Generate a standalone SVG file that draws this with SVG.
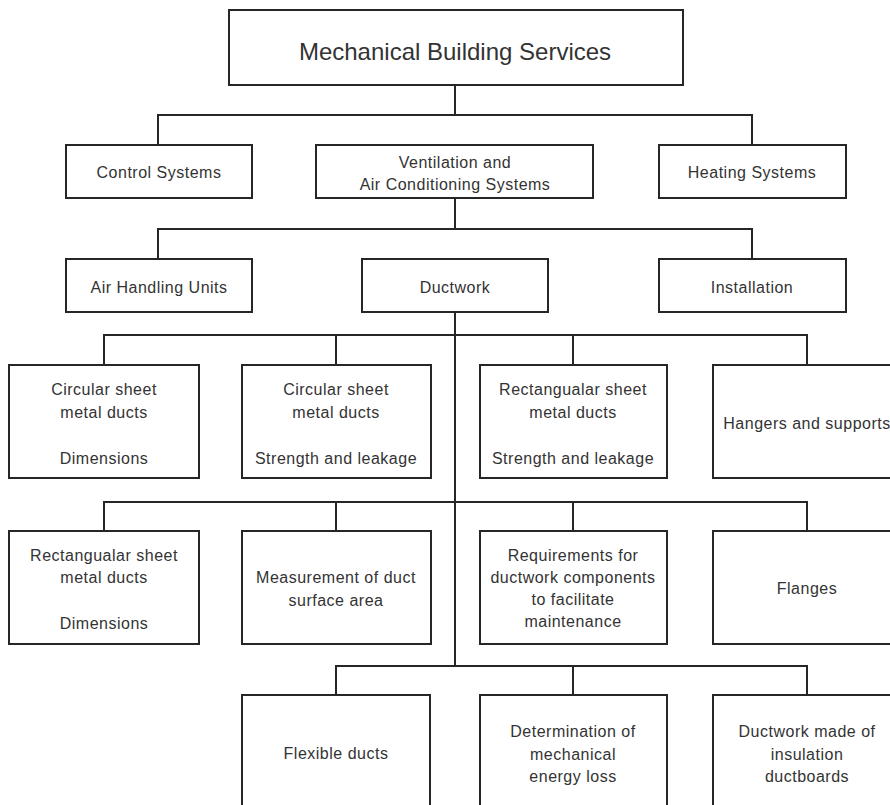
<svg xmlns="http://www.w3.org/2000/svg" width="890" height="805" viewBox="0 0 890 805">
<style>
.box{fill:#fff;stroke:#262626;stroke-width:2}
.t{font-family:"Liberation Sans",Arial,sans-serif;font-size:16px;fill:#333;text-anchor:middle;letter-spacing:0.5px}
.title{font-size:24px;letter-spacing:0}
.c{fill:none;stroke:#262626;stroke-width:2}
</style>
<rect width="890" height="805" fill="#fff"/>
<g id="connectors" class="c">
<path d="M455 85V115M158 145V115H752V145"/>
<path d="M455 198V229M158 259V229H752V259"/>
<path d="M455 312V666M104 365V335H807V365M336 335V365M573 335V365"/>
<path d="M104 531V502H807V531M336 502V531M573 502V531"/>
<path d="M336 695V666H807V695M573 666V695"/>
</g>
<g id="n-mbs"><rect class="box" x="229" y="10" width="454" height="75"/><text class="t title" x="455" y="60">Mechanical Building Services</text></g>
<g id="n-control"><rect class="box" x="66" y="145" width="186" height="53"/><text class="t" x="159" y="178">Control Systems</text></g>
<g id="n-vac"><rect class="box" x="316" y="145" width="277" height="53"/><text class="t" x="455" y="168">Ventilation and</text><text class="t" x="455" y="190">Air Conditioning Systems</text></g>
<g id="n-heating"><rect class="box" x="659" y="145" width="187" height="53"/><text class="t" x="752" y="178">Heating Systems</text></g>
<g id="n-ahu"><rect class="box" x="66" y="259" width="186" height="53"/><text class="t" x="159" y="293">Air Handling Units</text></g>
<g id="n-ductwork"><rect class="box" x="362" y="259" width="186" height="53"/><text class="t" x="455" y="293">Ductwork</text></g>
<g id="n-install"><rect class="box" x="659" y="259" width="187" height="53"/><text class="t" x="752" y="293">Installation</text></g>
<g id="n-circ-dim"><rect class="box" x="9" y="365" width="190" height="113"/><text class="t" x="104" y="395">Circular sheet</text><text class="t" x="104" y="418">metal ducts</text><text class="t" x="104" y="464">Dimensions</text></g>
<g id="n-circ-str"><rect class="box" x="242" y="365" width="189" height="113"/><text class="t" x="336" y="395">Circular sheet</text><text class="t" x="336" y="418">metal ducts</text><text class="t" x="336" y="464">Strength and leakage</text></g>
<g id="n-rect-str"><rect class="box" x="480" y="365" width="187" height="113"/><text class="t" x="573" y="395">Rectangualar sheet</text><text class="t" x="573" y="418">metal ducts</text><text class="t" x="573" y="464">Strength and leakage</text></g>
<g id="n-hangers"><rect class="box" x="713" y="365" width="188" height="113"/><text class="t" x="807" y="429">Hangers and supports</text></g>
<g id="n-rect-dim"><rect class="box" x="9" y="531" width="190" height="113"/><text class="t" x="104" y="561">Rectangualar sheet</text><text class="t" x="104" y="583">metal ducts</text><text class="t" x="104" y="629">Dimensions</text></g>
<g id="n-measure"><rect class="box" x="242" y="531" width="189" height="113"/><text class="t" x="336" y="583">Measurement of duct</text><text class="t" x="336" y="606">surface area</text></g>
<g id="n-require"><rect class="box" x="480" y="531" width="187" height="113"/><text class="t" x="573" y="561">Requirements for</text><text class="t" x="573" y="583">ductwork components</text><text class="t" x="573" y="605">to facilitate</text><text class="t" x="573" y="627">maintenance</text></g>
<g id="n-flanges"><rect class="box" x="713" y="531" width="188" height="113"/><text class="t" x="807" y="594">Flanges</text></g>
<g id="n-flex"><rect class="box" x="242" y="695" width="188" height="118"/><text class="t" x="336" y="759">Flexible ducts</text></g>
<g id="n-energy"><rect class="box" x="480" y="695" width="187" height="118"/><text class="t" x="573" y="737">Determination of</text><text class="t" x="573" y="760">mechanical</text><text class="t" x="573" y="782">energy loss</text></g>
<g id="n-insul"><rect class="box" x="713" y="695" width="188" height="118"/><text class="t" x="807" y="737">Ductwork made of</text><text class="t" x="807" y="760">insulation</text><text class="t" x="807" y="782">ductboards</text></g>
</svg>
